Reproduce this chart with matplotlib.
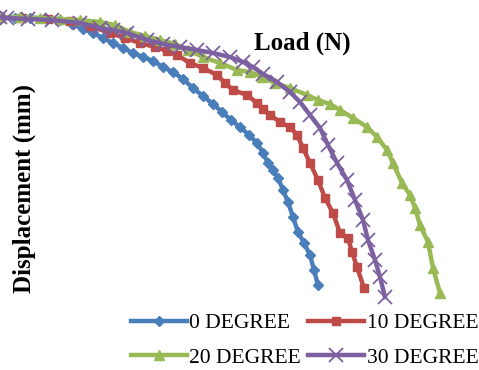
import matplotlib
matplotlib.use("Agg")
from matplotlib import pyplot as plt

# values (load along x, displacement downward)
load_0 = [0, 15, 30, 45, 60, 72, 83, 93, 103, 113, 123, 133, 143, 153, 163, 173, 183, 193, 203,
          213, 222, 231, 240, 249, 257, 263, 268, 273, 278, 283, 288, 293, 298, 304, 310, 314, 318]
disp_0 = [18, 18, 18, 18, 20, 24, 29, 33, 38, 43, 48, 53, 57, 61, 67, 72, 79, 88, 96,
          104, 112, 120, 127, 135, 143, 153, 163, 170, 178, 190, 202, 217, 232, 243, 255, 270, 285]

load_10 = [0, 22, 48, 70, 90, 110, 125, 140, 155, 167, 177, 190, 203, 217, 225, 233, 247,
           257, 263, 270, 280, 290, 297, 303, 310, 318, 325, 333, 340, 348, 352, 357, 364]
disp_10 = [17, 18, 19, 21, 26, 33, 38, 43, 47, 51, 55, 63, 68, 75, 83, 90, 95,
           103, 109, 115, 122, 127, 135, 148, 163, 180, 198, 213, 233, 238, 252, 267, 288]

load_20 = [0, 20, 40, 60, 80, 100, 115, 130, 145, 160, 175, 188, 203, 220, 237, 250, 262, 275,
           290, 307, 318, 330, 340, 353, 367, 377, 387, 393, 402, 410, 415, 420, 428, 433, 440]
disp_20 = [17, 17, 18, 19, 20, 22, 25, 32, 36, 40, 44, 50, 57, 63, 70, 72, 77, 83,
           88, 95, 100, 104, 110, 118, 127, 137, 150, 163, 183, 195, 208, 225, 242, 268, 293]

load_30 = [0, 7, 28, 52, 80, 100, 113, 127, 147, 163, 180, 197, 213, 230, 243, 253, 263, 277,
           290, 300, 310, 320, 328, 337, 347, 355, 363, 368, 375, 380, 385]
disp_30 = [17, 18, 19, 20, 23, 28, 30, 33, 40, 44, 47, 50, 53, 57, 62, 67, 74, 82,
           92, 102, 115, 128, 145, 163, 180, 200, 220, 240, 260, 277, 297]

names = ["0 DEGREE", "10 DEGREE", "20 DEGREE", "30 DEGREE"]
colors = ["#4A7EBB", "#BE4B48", "#98B954", "#7D60A0"]

fig = plt.figure(figsize=(4.79, 3.70), dpi=100)
ax = fig.add_axes([0, 0, 1, 1])

h0, = ax.plot(load_0, disp_0, color=colors[0], lw=3.2, marker="D", ms=5, label=names[0])
h1, = ax.plot(load_10, disp_10, color=colors[1], lw=3.2, marker="s", ms=5.5, label=names[1])
h2, = ax.plot(load_20, disp_20, color=colors[2], lw=3.2, marker="^", ms=6.5, label=names[2])
h3, = ax.plot(load_30, disp_30, color=colors[3], lw=3.2, marker="x", ms=10, mew=1.3, label=names[3])

ax.set_xlim(0, 479)
ax.set_ylim(370, 0)
ax.axis("off")

fig.text(0.632, 0.883, "Load (N)", family="Liberation Serif", weight="bold",
         fontsize=18, ha="center", va="center")
fig.text(0.05, 0.49, "Displacement (mm)", family="Liberation Serif", weight="bold",
         fontsize=18, ha="center", va="center", rotation=90)

leg = fig.legend([h0, h2, h1, h3], [names[0], names[2], names[1], names[3]], ncol=2,
                 loc="lower right", bbox_to_anchor=(1.03, -0.035), frameon=False,
                 prop={"family": "Liberation Serif", "size": 15.5},
                 handlelength=2.6, handletextpad=0.1, columnspacing=0.35,
                 labelspacing=0.68, borderpad=0.2)

fig.savefig("out.png", dpi=100)
